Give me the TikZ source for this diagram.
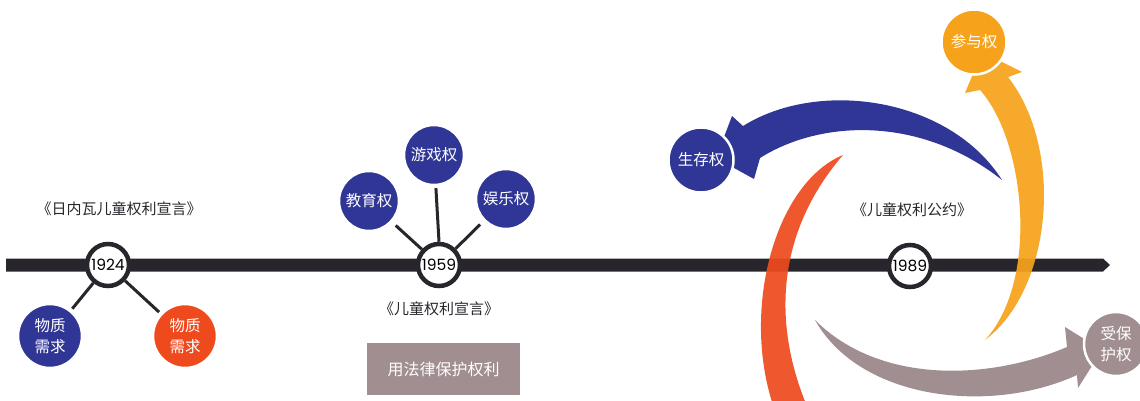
\documentclass[tikz,border=0pt]{standalone}
\usepackage{fontspec}
\usepackage{xcolor}
\setmainfont{Noto Sans CJK SC}
\newfontfamily\yearfont{Poppins}
\definecolor{barcol}{RGB}{40,38,44}
\definecolor{rightsblue}{RGB}{48,54,150}
\definecolor{rightsred}{RGB}{238,74,30}
\definecolor{rightsamber}{RGB}{246,163,27}
\definecolor{rightsgray}{RGB}{160,142,144}

\begin{document}
\begin{tikzpicture}[x=1pt,y=-1pt,
            year/.style={circle, draw=barcol, line width=4.5pt, fill=white, minimum size=42pt, inner sep=0pt, font=\yearfont\fontsize{15.5}{15.5}\selectfont},
            right/.style={circle, draw=white, line width=2.5pt, minimum size=#1, inner sep=0pt, text=white, align=center, font=\fontsize{15.5}{20.5}\selectfont},
            right/.default=62pt,
            doc/.style={font=\fontsize{15}{15}\selectfont, text=barcol},
            link/.style={draw=barcol, line width=3pt}]
            \useasboundingbox (0,0) rectangle (1140,400);
            \clip (0,0) rectangle (1140,400);
            % timeline
            \coordinate (tstart) at (6,265);
            \coordinate (tend) at (1110,265);
            \fill[barcol] (tstart) ++(0,-6.5) -- ++(1097,0) -- (tend) -- ++(-7,6.5) -- ++(-1097,0) -- cycle;
            % 1924
            \node[doc] (geneva) at (119,209) {《日内瓦儿童权利宣言》};
            \node[year] (y1924) at (108,265) {1924};
            \node[right=64pt, fill=rightsblue] (needa) at (50,336) {物质\\需求};
            \node[right=64pt, fill=rightsred] (needb) at (185,336) {物质\\需求};
            \draw[link, shorten >=2pt] (y1924) -- (needa);
            \draw[link, shorten >=2pt] (y1924) -- (needb);
            % 1959
            \node[year] (y1959) at (439,265) {1959};
            \node[right=60pt, fill=rightsblue] (edu) at (369,201) {教育权};
            \node[right=60pt, fill=rightsblue] (play) at (434,155) {游戏权};
            \node[right=60pt, fill=rightsblue] (fun) at (506,199) {娱乐权};
            \draw[link, shorten >=5pt] (y1959) -- (edu);
            \draw[link, shorten >=2pt] (y1959.north) -- (play);
            \draw[link, shorten >=5pt] (y1959) -- (fun);
            \node[doc] (decl) at (439,309) {《儿童权利宣言》};
            \node[fill=rightsgray, minimum width=153pt, minimum height=52pt, text=white, font=\fontsize{16}{16}\selectfont] (law) at (443.5,369) {用法律保护权利};
            % 1989
            \node[doc] (conv) at (912,210) {《儿童权利公约》};
            \node[year] (y1989) at (910,266) {1989};
            \fill[rightsred, opacity=0.93] (843,155) .. controls (770,185) and (735,330) .. (783,430)
                -- (818,430) .. controls (772,340) and (770,240) .. (843,155) -- cycle;
            \fill[rightsblue] (1002,180) .. controls (950,98) and (820,78) .. (743,126)
                -- (732,116) -- (716,158) -- (754,179) -- (760,158)
                .. controls (820,120) and (920,115) .. (1002,180) -- cycle;
            \fill[rightsamber, opacity=0.93] (985,340) .. controls (1052,290) and (1065,150) .. (1008,77)
                -- (1022,72) -- (982,52) -- (965,93) -- (980,90)
                .. controls (1025,140) and (1040,280) .. (985,340) -- cycle;
            \fill[rightsgray] (815,320) .. controls (860,400) and (990,415) .. (1077,375)
                -- (1078,388) -- (1102,350) -- (1065,327) -- (1067,347)
                .. controls (990,380) and (880,385) .. (815,320) -- cycle;
            \node[right=65pt, fill=rightsblue] (live) at (701,160) {生存权};
            \node[right=65pt, fill=rightsamber] (join) at (974,42) {参与权};
            \node[right=64pt, fill=rightsgray] (safe) at (1116,344) {受保\\护权};
        \end{tikzpicture}
\end{document}
